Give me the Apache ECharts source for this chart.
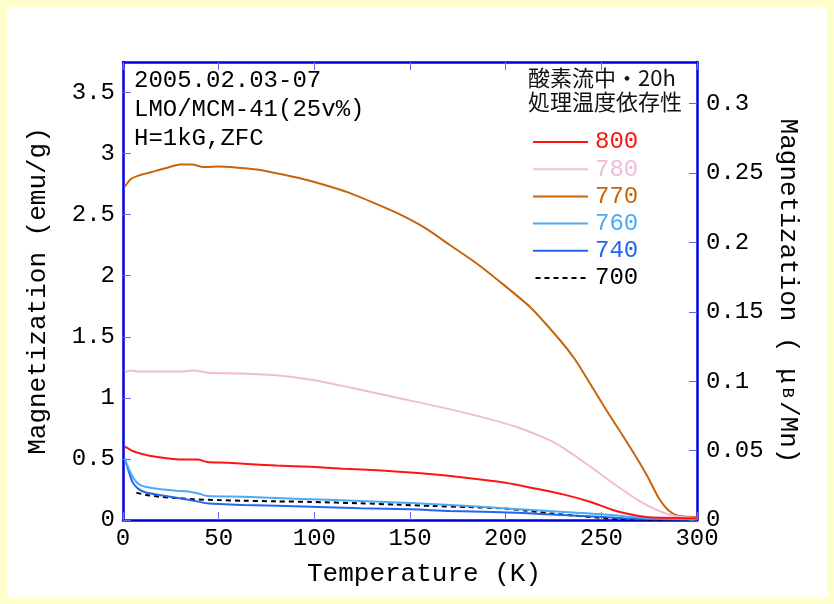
<!DOCTYPE html>
<html>
<head>
<meta charset="utf-8">
<script src="https://cdn.jsdelivr.net/npm/echarts@6/dist/echarts.min.js"></script>
<style>
  html, body { margin: 0; padding: 0; background: #ffffcc; }
  #chart { width: 834px; height: 604px; }
</style>
</head>
<body>
<div id="chart"></div>
<script>
// Temperature dependence of magnetization, ZFC, H = 1 kG
// Samples annealed in O2 flow for 20 h at different temperatures (°C)

const sampleNames = ['800', '780', '770', '760', '740', '700'];

// [temperature (K), magnetization (emu/g)]
const m800 = [[1,0.60],[5,0.565],[10,0.54],[18,0.515],[26,0.50],[33,0.495],[39,0.495],[44,0.475],[55,0.468],[63,0.46],[80,0.447],[98,0.435],[115,0.42],[135,0.405],[154,0.385],[170,0.362],[188,0.33],[200,0.305],[214,0.262],[230,0.21],[244,0.15],[256,0.082],[267,0.041],[275,0.022],[300,0.014]];
const m780 = [[1,1.21],[4,1.225],[8,1.215],[20,1.215],[30,1.215],[37,1.225],[45,1.205],[60,1.20],[80,1.185],[100,1.145],[120,1.08],[145,0.995],[170,0.91],[193,0.82],[205,0.765],[216,0.70],[224,0.645],[232,0.57],[244,0.44],[258,0.28],[270,0.155],[279,0.082],[289,0.03],[300,0.016]];
const m770 = [[1,2.73],[4,2.79],[8,2.82],[15,2.85],[22,2.88],[30,2.91],[36,2.91],[42,2.89],[50,2.895],[60,2.885],[70,2.87],[80,2.84],[92,2.80],[105,2.745],[118,2.68],[132,2.59],[145,2.50],[158,2.39],[171,2.25],[184,2.11],[197,1.95],[213,1.74],[228,1.48],[236,1.32],[244,1.12],[253,0.89],[260,0.72],[268,0.52],[274,0.36],[280,0.18],[285,0.08],[290,0.035],[295,0.026],[300,0.025]];
const m760 = [[1,0.50],[3,0.42],[6,0.33],[9,0.285],[15,0.262],[20,0.252],[28,0.24],[35,0.232],[40,0.215],[44,0.197],[63,0.19],[90,0.175],[124,0.156],[150,0.14],[171,0.123],[195,0.10],[214,0.082],[235,0.062],[249,0.049],[262,0.03],[275,0.014],[300,0.006]];
const m740 = [[1,0.50],[3,0.40],[5,0.31],[8,0.255],[12,0.225],[19,0.205],[27,0.185],[35,0.164],[44,0.137],[63,0.123],[98,0.109],[124,0.096],[150,0.088],[171,0.074],[206,0.06],[230,0.04],[249,0.027],[262,0.015],[275,0.008],[300,0.004]];
const m700 = [[7,0.224],[12,0.205],[19,0.191],[28,0.18],[37,0.17],[50,0.163],[63,0.158],[80,0.153],[98,0.148],[124,0.137],[143,0.126],[162,0.115],[180,0.106],[197,0.096],[210,0.078],[223,0.055],[236,0.036],[249,0.019],[258,0.006],[275,0.003],[300,0.002]];

const seriesData = [m800, m780, m770, m760, m740, m700];
const seriesColors = ['#ff1414', '#f0bcd8', '#c8640c', '#4eaaf4', '#2266f0', '#000000'];

// axis ranges
const xMin = 0, xMax = 300, xStep = 50;
const yMin = 0, yMax = 3.75, yStep = 0.5;
const y2Min = 0, y2Max = 0.33, y2Step = 0.05;

const infoLines = ['2005.02.03-07', 'LMO/MCM-41(25v%)', 'H=1kG,ZFC'];
const titleLines = ['酸素流中・20h', '処理温度依存性'];

const MONO = '"Liberation Mono", "DejaVu Sans Mono", monospace';
const CJK = '"Noto Sans CJK JP", sans-serif';
const AXIS_BLUE = '#0000e0';
const TICK_BLUE = '#6a6af0';

// legend keys: a solid bar, and a dashed one for the 700 sample
const SOLID_KEY = 'rect';
const DASHED_KEY = 'path://M0,0h5v2h-5zM9,0h5v2h-5zM18,0h5v2h-5zM27,0h5v2h-5zM36,0h5v2h-5zM45,0h5v2h-5z';

const frameLine = { show: true, onZero: false, lineStyle: { color: AXIS_BLUE, width: 2.5 } };
const innerTick = { show: true, inside: true, length: 8, lineStyle: { color: TICK_BLUE, width: 1 } };
const tickFont = { color: '#000', fontFamily: MONO, fontSize: 24 };
const nameFont = { color: '#000', fontFamily: MONO, fontSize: 26 };

const chart = echarts.init(document.getElementById('chart'), null, { renderer: 'canvas' });

const graphics = [
  { type: 'rect', z: -10, silent: true, shape: { x: 7, y: 7, width: 820, height: 590 }, style: { fill: '#ffffff' } }
];
infoLines.forEach((t, i) => {
  graphics.push({ type: 'text', x: 134, y: 81 + i * 29, silent: true,
    style: { text: t, fontFamily: MONO, fontSize: 24, fill: '#000', verticalAlign: 'middle', align: 'left' } });
});
titleLines.forEach((t, i) => {
  graphics.push({ type: 'text', x: 528, y: 78 + i * 24, silent: true,
    style: { text: t, fontFamily: CJK, fontSize: 22, fill: '#111', verticalAlign: 'middle', align: 'left' } });
});

const option = {
  backgroundColor: '#ffffcc',
  animation: false,
  graphic: graphics,
  grid: { left: 123, right: 137, top: 62, bottom: 84, containLabel: false },
  legend: {
    orient: 'vertical',
    left: 533,
    top: 130,
    padding: 0,
    itemWidth: 55,
    itemHeight: 2,
    itemGap: 3.2,
    selectedMode: false,
    textStyle: { fontFamily: MONO, fontSize: 24, lineHeight: 24, padding: [0, 0, 0, 2] },
    data: sampleNames.map((n, i) => ({
      name: n,
      icon: i === 5 ? DASHED_KEY : SOLID_KEY,
      itemStyle: { color: seriesColors[i] },
      textStyle: { color: seriesColors[i] }
    }))
  },
  xAxis: [
    {
      type: 'value', position: 'bottom', min: xMin, max: xMax, interval: xStep,
      axisLine: frameLine, axisTick: innerTick, splitLine: { show: false },
      axisLabel: Object.assign({ margin: 7 }, tickFont),
      name: 'Temperature (K)', nameLocation: 'middle', nameGap: 41,
      nameTextStyle: Object.assign({ padding: [0, 0, 0, 28] }, nameFont)
    },
    {
      type: 'value', position: 'top', min: xMin, max: xMax, interval: xStep,
      axisLine: frameLine, axisTick: innerTick, splitLine: { show: false },
      axisLabel: { show: false }
    }
  ],
  yAxis: [
    {
      type: 'value', position: 'left', min: yMin, max: yMax, interval: yStep,
      axisLine: frameLine, axisTick: innerTick, splitLine: { show: false },
      axisLabel: Object.assign({ margin: 8, showMaxLabel: false }, tickFont),
      name: 'Magnetization (emu/g)', nameLocation: 'middle', nameGap: 72, nameRotate: 90,
      nameTextStyle: nameFont
    },
    {
      type: 'value', position: 'right', min: y2Min, max: y2Max, interval: y2Step,
      axisLine: frameLine, axisTick: innerTick, splitLine: { show: false },
      axisLabel: Object.assign({ margin: 9, showMaxLabel: false }, tickFont),
      name: 'Magnetization ( μ{s|B}/Mn)', nameLocation: 'middle', nameGap: 70, nameRotate: -90,
      nameTextStyle: Object.assign({
        rich: { s: { fontFamily: MONO, fontSize: 17, color: '#000', padding: [0, 3, 0, 4] } }
      }, nameFont)
    }
  ],
  series: sampleNames.map((n, i) => ({
    name: n,
    type: 'line',
    xAxisIndex: 0,
    yAxisIndex: 0,
    data: seriesData[i],
    showSymbol: false,
    symbol: 'none',
    smooth: 0.25,
    lineStyle: { color: seriesColors[i], width: 2, type: i === 5 ? [5, 4] : 'solid' },
    itemStyle: { color: seriesColors[i] },
    emphasis: { disabled: true },
    z: 10 - i
  }))
};

chart.setOption(option);
</script>
</body>
</html>
